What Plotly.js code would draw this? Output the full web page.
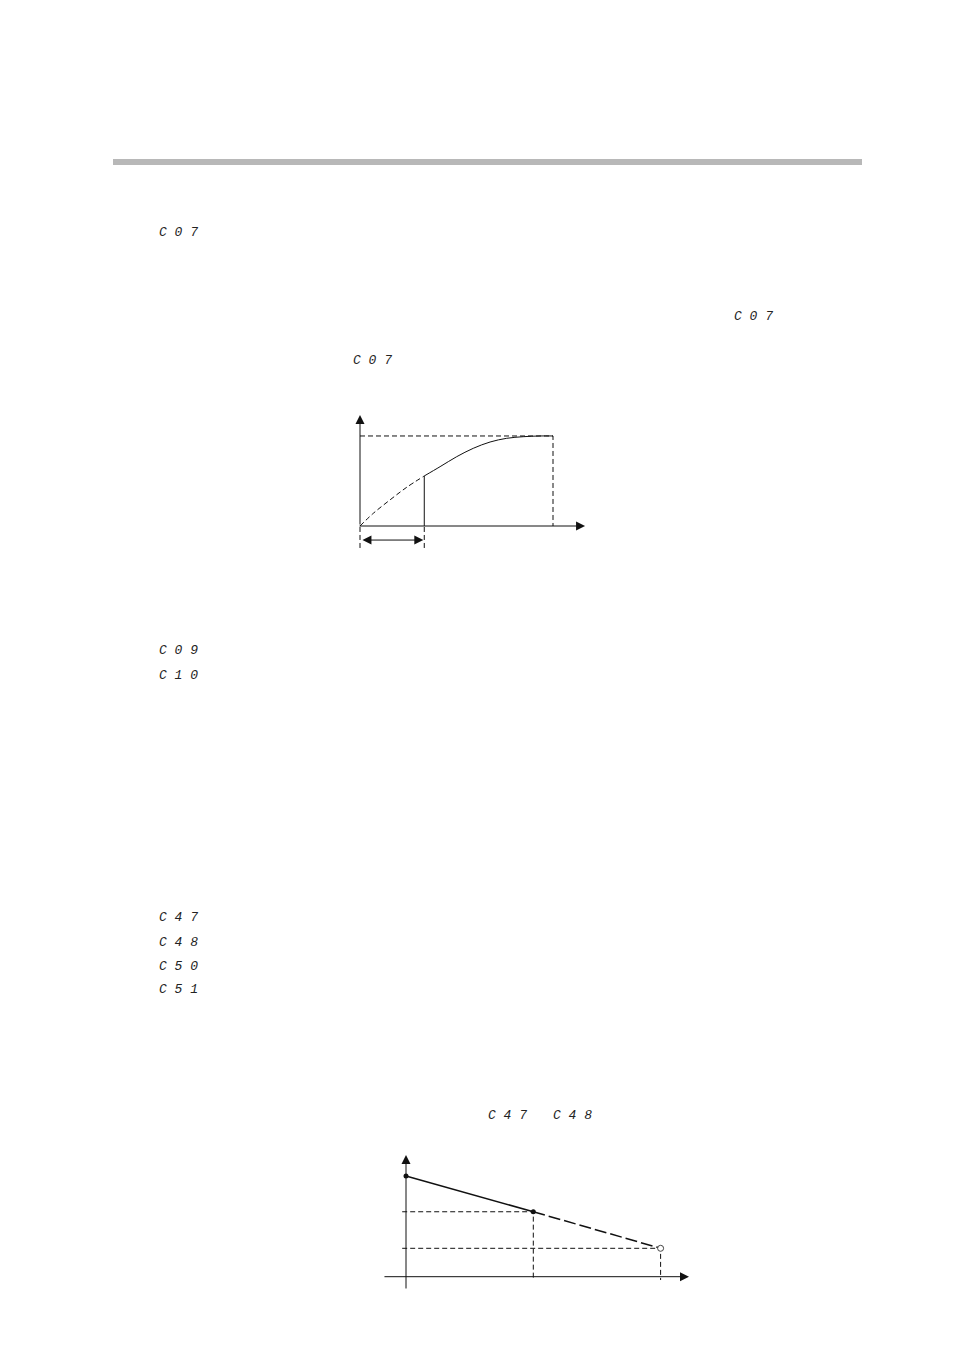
<!DOCTYPE html>
<html>
<head>
<meta charset="utf-8">
<script src="https://cdn.plot.ly/plotly-3.0.1.min.js"></script>
<style>
  body { margin: 0; background: #fff; }
  #page { width: 954px; height: 1351px; }
</style>
</head>
<body>
<div id="page"></div>
<script>
// diagram 1: rising curve, dashed up to the split point, solid after it
let curveX = [0, 0.069, 0.155, 0.242, 0.333, 0.415, 0.501, 0.587, 0.674, 0.760, 0.846, 0.933, 1.0];
let curveY = [0, 0.141, 0.289, 0.430, 0.556, 0.659, 0.770, 0.863, 0.933, 0.974, 0.992, 1.0, 1.0];
let splitIndex = 4;

// diagram 2: three points on a falling line (A, B, C)
let lineX = [0, 1, 2];
let lineY = [1.0, 0.645, 0.282];

// seven segment parameter codes shown in the text
let codeLabels = ['C 0 7', 'C 0 7', 'C 0 7', 'C 0 9', 'C 1 0', 'C 4 7', 'C 4 8', 'C 5 0', 'C 5 1', 'C 4 7', 'C 4 8'];
let codeLeft = [157, 732, 351, 157, 157, 157, 157, 157, 157, 486, 551];
let codeTop = [232, 316, 361, 650, 675, 917, 942, 966, 990, 1115, 1115];

const W = 954, H = 1351;
const ink = '#111';
const guide = '5px,3px';

let traces = [];

// curve dashed part
traces.push({
    x: curveX.slice(0, splitIndex + 1), y: curveY.slice(0, splitIndex + 1),
    xaxis: 'x', yaxis: 'y', mode: 'lines', line: {color: ink, width: 1, dash: guide, shape: 'spline'}
});
// curve solid part
traces.push({
    x: curveX.slice(splitIndex), y: curveY.slice(splitIndex),
    xaxis: 'x', yaxis: 'y', mode: 'lines', line: {color: ink, width: 1, shape: 'spline'}
});

let sx = curveX[splitIndex], sy = curveY[splitIndex];
let endX = curveX[curveX.length - 1], endY = curveY[curveY.length - 1];
let below1 = -0.244;
// guide lines diagram 1
traces.push({x: [0, endX, endX], y: [endY, endY, 0], xaxis: 'x', yaxis: 'y', mode: 'lines', line: {color: ink, width: 1, dash: guide}});
traces.push({x: [sx, sx], y: [0, sy], xaxis: 'x', yaxis: 'y', mode: 'lines', line: {color: ink, width: 1}});
traces.push({x: [sx, sx], y: [below1, 0], xaxis: 'x', yaxis: 'y', mode: 'lines', line: {color: ink, width: 1, dash: guide}});
traces.push({x: [0, 0], y: [below1, 0], xaxis: 'x', yaxis: 'y', mode: 'lines', line: {color: ink, width: 1, dash: guide}});

// diagram 2 lines
traces.push({x: lineX.slice(0, 2), y: lineY.slice(0, 2), xaxis: 'x2', yaxis: 'y2', mode: 'lines', line: {color: ink, width: 1.5}});
traces.push({x: lineX.slice(1), y: lineY.slice(1), xaxis: 'x2', yaxis: 'y2', mode: 'lines', line: {color: ink, width: 1.5, dash: '12px,4px'}});
let below2 = -0.033;
for (let i = 1; i < lineX.length; i++) {
    traces.push({x: [-0.03, lineX[i], lineX[i]], y: [lineY[i], lineY[i], below2], xaxis: 'x2', yaxis: 'y2',
        mode: 'lines', line: {color: ink, width: 1, dash: guide}});
}
traces.push({x: lineX.slice(0, 2), y: lineY.slice(0, 2), xaxis: 'x2', yaxis: 'y2', mode: 'markers',
    marker: {color: ink, size: 5}});
traces.push({x: lineX.slice(2), y: lineY.slice(2), xaxis: 'x2', yaxis: 'y2', mode: 'markers',
    marker: {color: '#fff', size: 6, line: {color: '#444', width: 1}}});

// pixel box -> domain
function dom(a, b, size, flip) {
    return flip ? [1 - b / size, 1 - a / size] : [a / size, b / size];
}
let hidden = {visible: false, fixedrange: true};

let arrows = [
    // diagram 1 axes
    {xref: 'x', yref: 'y', axref: 'x', ayref: 'y', x: 0, y: 1.233, ax: 0, ay: 0},
    {xref: 'x', yref: 'y', axref: 'x', ayref: 'y', x: 1.166, y: 0, ax: -0.01, ay: 0},
    // span arrow
    {xref: 'x', yref: 'y', axref: 'x', ayref: 'y', x: sx - 0.005, y: -0.156, ax: 0.005, ay: -0.156, arrowside: 'end+start'},
    // diagram 2 axes
    {xref: 'x2', yref: 'y2', axref: 'x2', ayref: 'y2', x: 0, y: 1.208, ax: 0, ay: -0.132},
    {xref: 'x2', yref: 'y2', axref: 'x2', ayref: 'y2', x: 2.223, y: 0, ax: -0.181, ay: 0}
].map(a => Object.assign({showarrow: true, text: '', arrowhead: 2, arrowsize: 1.8, arrowwidth: 1, arrowcolor: ink, standoff: 0, startstandoff: 0, startarrowhead: 2, startarrowsize: 1.8}, a));

let codes = codeLabels.map((t, i) => ({
    xref: 'paper', yref: 'paper', x: codeLeft[i] / W, y: 1 - codeTop[i] / H,
    xanchor: 'left', yanchor: 'middle', showarrow: false, text: t,
    font: {family: 'Liberation Mono', size: 13, color: '#222', style: 'italic'}
}));

let layout = {
    width: W, height: H,
    margin: {l: 0, r: 0, t: 0, b: 0},
    paper_bgcolor: '#fff', plot_bgcolor: 'rgba(0,0,0,0)',
    showlegend: false,
    xaxis: Object.assign({domain: dom(350, 595, W), range: [-0.0518, 1.2176]}, hidden),
    yaxis: Object.assign({domain: dom(405, 555, H, true), range: [-0.322, 1.344]}, hidden),
    xaxis2: Object.assign({domain: dom(375, 700, W), range: [-0.2435, 2.3095], anchor: 'y2'}, hidden),
    yaxis2: Object.assign({domain: dom(1145, 1295, H, true), range: [-0.1817, 1.3078], anchor: 'x2'}, hidden),
    shapes: [{type: 'rect', xref: 'paper', yref: 'paper', x0: 113 / W, x1: 862 / W,
        y0: 1 - 165 / H, y1: 1 - 159 / H, fillcolor: '#b8b8b8', line: {width: 0}}],
    annotations: arrows.concat(codes)
};

Plotly.newPlot('page', traces, layout, {staticPlot: true});
</script>
</body>
</html>
